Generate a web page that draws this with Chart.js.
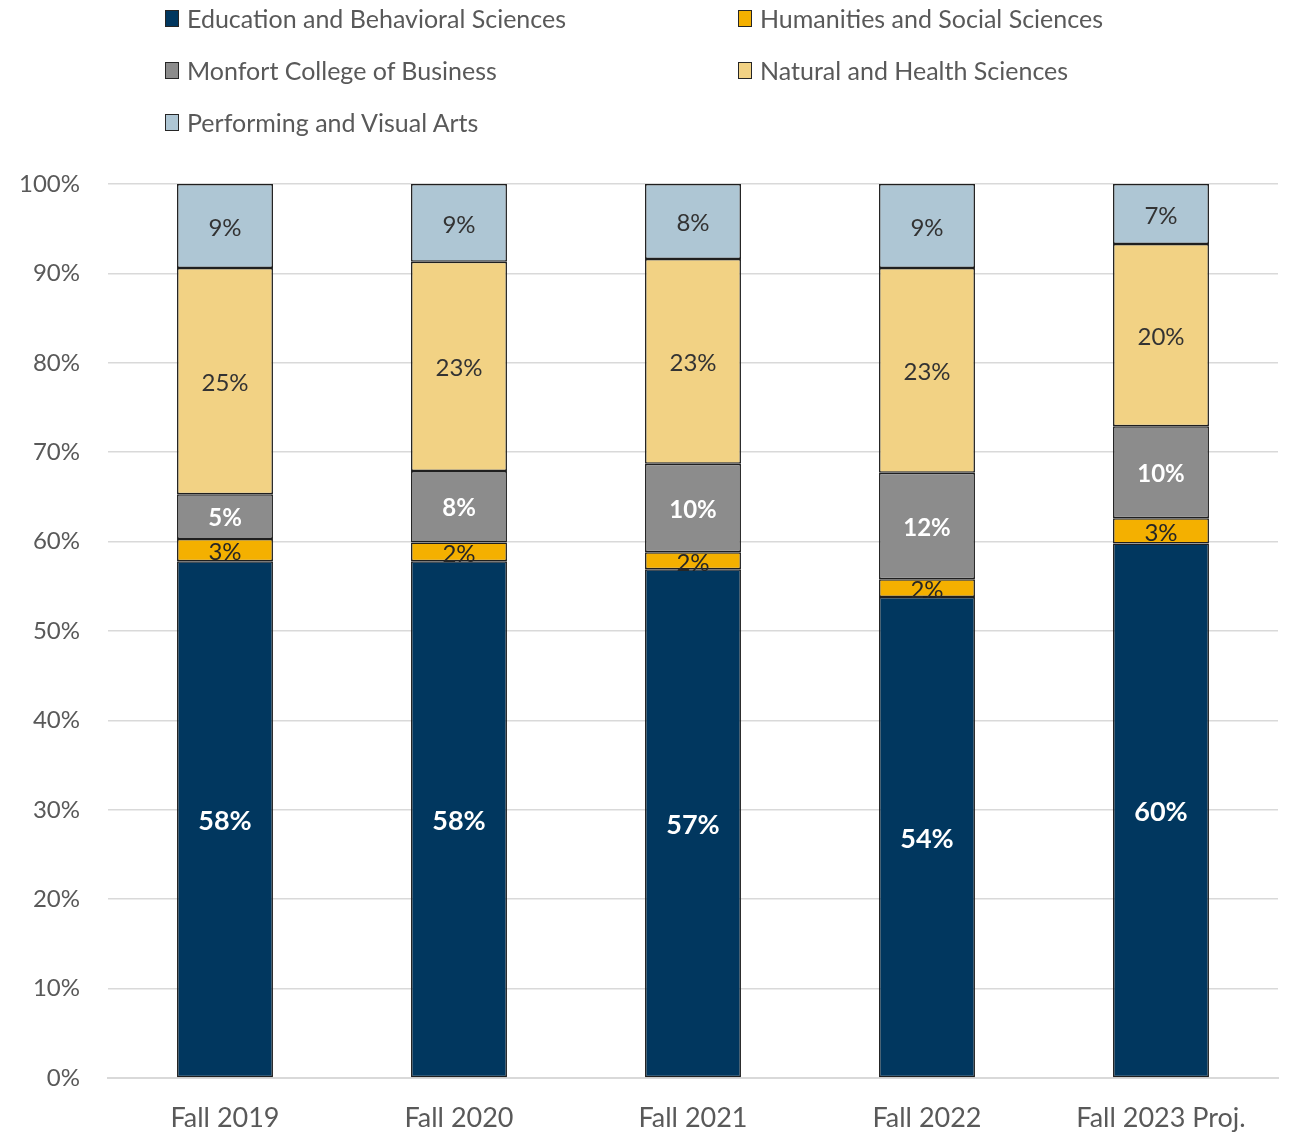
<!DOCTYPE html>
<html>
<head>
<meta charset="utf-8">
<script src="https://cdn.jsdelivr.net/npm/chart.js@4/dist/chart.umd.min.js"></script>
<style>
html,body{margin:0;padding:0;background:#fff;}
#wrap{position:relative;width:1293px;height:1133px;}
#chart{position:absolute;left:0;top:0;}
#legend{position:absolute;left:165px;top:0;display:grid;grid-template-columns:573px 500px;grid-auto-rows:52px;font-family:Lato,"Liberation Sans",sans-serif;font-size:25px;color:#595959;}
.item{display:flex;align-items:center;height:36px;}
.box{width:12px;height:15px;border:1.5px solid #262626;margin-right:8px;flex:none;}
</style>
</head>
<body>
<div id="wrap">
<canvas id="chart" width="1293" height="1133"></canvas>
<div id="legend"></div>
</div>
<script>
const categories = ["Fall 2019","Fall 2020","Fall 2021","Fall 2022","Fall 2023 Proj."]
const seriesNames = ["Education and Behavioral Sciences","Humanities and Social Sciences","Monfort College of Business","Natural and Health Sciences","Performing and Visual Arts"]
const education = [57.8,57.8,56.9,53.8,59.8]
const humanities = [2.5,2.1,1.9,2.0,2.8]
const monfort = [5.0,8.0,9.9,11.9,10.3]
const natural = [25.3,23.4,22.9,22.9,20.4]
const performing = [9.4,8.7,8.4,9.4,6.7]
const yTicks = [0,10,20,30,40,50,60,70,80,90,100]

const colors = ["#01375f","#f4b000","#8c8c8c","#f2d284","#aec6d4"]
const labelColors = ["#ffffff","#262626","#ffffff","#333333","#333333"]
const labelFonts = ["bold 27px Lato","24px Lato","bold 24px Lato","24px Lato","24px Lato"]
const allValues = [education,humanities,monfort,natural,performing]

const datasets = allValues.map((vals,i)=>({
label:seriesNames[i],
data:vals,
backgroundColor:colors[i],
borderColor:"#1f1f1f",
borderWidth:1.5,
borderSkipped:false,
categoryPercentage:1,
barPercentage:0.41
}))

const barLabels = {
id:"barLabels",
afterDatasetsDraw(chart){
const ctx = chart.ctx
chart.data.datasets.forEach((ds,i)=>{
const meta = chart.getDatasetMeta(i)
meta.data.forEach((bar,j)=>{
ctx.save()
ctx.font = labelFonts[i]
ctx.fillStyle = labelColors[i]
ctx.textAlign = "center"
ctx.textBaseline = "middle"
ctx.fillText(Math.round(ds.data[j])+"%", bar.x, (bar.y+bar.base)/2+2)
ctx.restore()
})
})
}
}

const chart = new Chart(document.getElementById("chart"),{
type:"bar",
data:{labels:categories,datasets:datasets},
options:{
responsive:false,
animation:false,
devicePixelRatio:1,
layout:{padding:{top:184,right:15,bottom:0,left:0}},
plugins:{legend:{display:false},tooltip:{enabled:false}},
scales:{
x:{
stacked:true,
afterFit(scale){scale.height = 55},
grid:{display:false},
border:{display:true,color:"#d9d9d9",width:2},
ticks:{color:"#595959",font:{family:"Lato",size:27},padding:16}
},
y:{
stacked:true,
min:0,max:100,
afterBuildTicks(scale){scale.ticks = yTicks.map(v=>({value:v}))},
afterFit(scale){scale.width = 108},
grid:{color:"#d9d9d9",lineWidth:1.5,drawTicks:false},
border:{display:false},
ticks:{color:"#595959",font:{family:"Lato",size:24},padding:28,callback:v=>v+"%"}
}
}
},
plugins:[barLabels]
})

let html = ""
chart.data.datasets.forEach(ds=>{
html += `<div class="item"><span class="box" style="background:${ds.backgroundColor}"></span>${ds.label}</div>`
})
document.getElementById("legend").innerHTML = html
</script>
</body>
</html>
